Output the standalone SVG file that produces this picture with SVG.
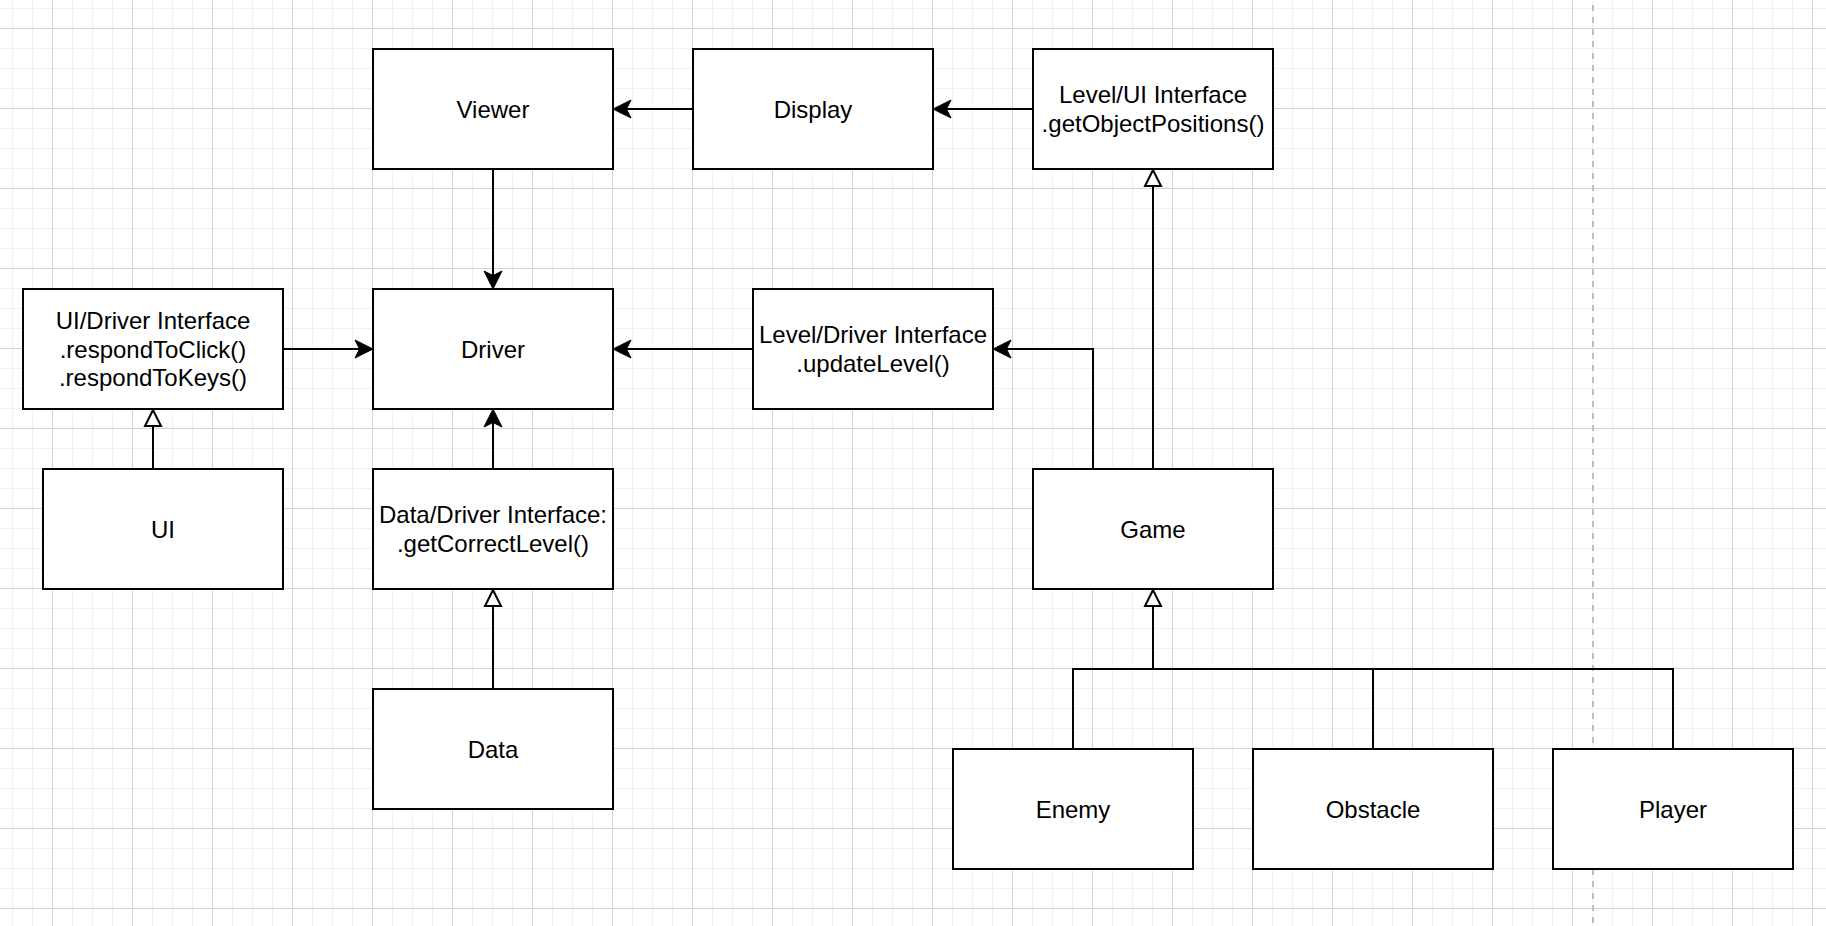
<svg xmlns="http://www.w3.org/2000/svg" width="1826" height="926" viewBox="0 0 1826 926">
  <style>
    .box { fill: #ffffff; stroke: #000000; stroke-width: 2; }
    .lbl { font-family: "Liberation Sans", Arial, Helvetica, sans-serif; font-size: 24px; fill: #000000; text-anchor: middle; }
    .edge { fill: none; stroke: #000000; stroke-width: 2; }
    .assoc { marker-end: url(#arrow); }
    .inherit { marker-end: url(#triangle); }
  </style>
  <defs>
    <pattern id="grid" patternUnits="userSpaceOnUse" x="12" y="8" width="80" height="80">
      <rect x="0" y="0" width="1" height="80" fill="#f0f0f0"/>
      <rect x="20" y="0" width="1" height="80" fill="#f0f0f0"/>
      <rect x="60" y="0" width="1" height="80" fill="#f0f0f0"/>
      <rect x="0" y="0" width="80" height="1" fill="#f0f0f0"/>
      <rect x="0" y="40" width="80" height="1" fill="#f0f0f0"/>
      <rect x="0" y="60" width="80" height="1" fill="#f0f0f0"/>
      <rect x="40" y="0" width="1" height="80" fill="#d4d4d4"/>
      <rect x="0" y="20" width="80" height="1" fill="#d4d4d4"/>
    </pattern>
    <marker id="arrow" markerUnits="userSpaceOnUse" viewBox="0 0 20 20" markerWidth="20" markerHeight="20" refX="16" refY="10" orient="auto" overflow="visible">
      <path d="M19,10 L1,1 L5.5,10 L1,19 Z" fill="#000000" stroke="#000000" stroke-width="1" stroke-linejoin="miter"/>
    </marker>
    <marker id="triangle" markerUnits="userSpaceOnUse" viewBox="0 0 24 24" markerWidth="24" markerHeight="24" refX="20" refY="12" orient="auto" overflow="visible">
      <path d="M19,12 L3,4 L3,20 Z" fill="#ffffff" stroke="#000000" stroke-width="2"/>
    </marker>
  </defs>

  <rect x="0" y="0" width="1826" height="926" fill="#ffffff"/>
  <rect x="0" y="0" width="1826" height="926" fill="url(#grid)"/>
  <line x1="1593" y1="5" x2="1593" y2="926" stroke="#c0c0c0" stroke-width="2" stroke-dasharray="6 6"/>

  <g id="connectors">
    <path class="edge assoc" d="M693,109 L616,109"/>
    <path class="edge assoc" d="M1033,109 L936,109"/>
    <path class="edge assoc" d="M493,169 L493,286"/>
    <path class="edge assoc" d="M283,349 L370,349"/>
    <path class="edge assoc" d="M753,349 L616,349"/>
    <path class="edge assoc" d="M493,469 L493,412"/>
    <path class="edge assoc" d="M1093,469 L1093,349 L996,349"/>
    <path class="edge inherit" d="M153,469 L153,409"/>
    <path class="edge inherit" d="M493,689 L493,589"/>
    <path class="edge inherit" d="M1153,469 L1153,169"/>
    <path class="edge" d="M1373,749 L1373,669 L1153,669"/>
    <path class="edge" d="M1673,749 L1673,669 L1153,669"/>
    <path class="edge inherit" d="M1073,749 L1073,669 L1153,669 L1153,589"/>
  </g>

  <g id="viewer">
    <rect class="box" x="373" y="49" width="240" height="120"/>
    <text class="lbl" x="493" y="117.5">Viewer</text>
  </g>
  <g id="display">
    <rect class="box" x="693" y="49" width="240" height="120"/>
    <text class="lbl" x="813" y="117.5">Display</text>
  </g>
  <g id="level-ui-interface">
    <rect class="box" x="1033" y="49" width="240" height="120"/>
    <text class="lbl" x="1153" y="103.1">Level/UI Interface</text>
    <text class="lbl" x="1153" y="131.9">.getObjectPositions()</text>
  </g>
  <g id="ui-driver-interface">
    <rect class="box" x="23" y="289" width="260" height="120"/>
    <text class="lbl" x="153" y="328.7">UI/Driver Interface</text>
    <text class="lbl" x="153" y="357.5">.respondToClick()</text>
    <text class="lbl" x="153" y="386.3">.respondToKeys()</text>
  </g>
  <g id="driver">
    <rect class="box" x="373" y="289" width="240" height="120"/>
    <text class="lbl" x="493" y="357.5">Driver</text>
  </g>
  <g id="level-driver-interface">
    <rect class="box" x="753" y="289" width="240" height="120"/>
    <text class="lbl" x="873" y="343.1">Level/Driver Interface</text>
    <text class="lbl" x="873" y="371.9">.updateLevel()</text>
  </g>
  <g id="ui">
    <rect class="box" x="43" y="469" width="240" height="120"/>
    <text class="lbl" x="163" y="537.5">UI</text>
  </g>
  <g id="data-driver-interface">
    <rect class="box" x="373" y="469" width="240" height="120"/>
    <text class="lbl" x="493" y="523.1">Data/Driver Interface:</text>
    <text class="lbl" x="493" y="551.9">.getCorrectLevel()</text>
  </g>
  <g id="game">
    <rect class="box" x="1033" y="469" width="240" height="120"/>
    <text class="lbl" x="1153" y="537.5">Game</text>
  </g>
  <g id="data">
    <rect class="box" x="373" y="689" width="240" height="120"/>
    <text class="lbl" x="493" y="757.5">Data</text>
  </g>
  <g id="enemy">
    <rect class="box" x="953" y="749" width="240" height="120"/>
    <text class="lbl" x="1073" y="817.5">Enemy</text>
  </g>
  <g id="obstacle">
    <rect class="box" x="1253" y="749" width="240" height="120"/>
    <text class="lbl" x="1373" y="817.5">Obstacle</text>
  </g>
  <g id="player">
    <rect class="box" x="1553" y="749" width="240" height="120"/>
    <text class="lbl" x="1673" y="817.5">Player</text>
  </g>
</svg>
